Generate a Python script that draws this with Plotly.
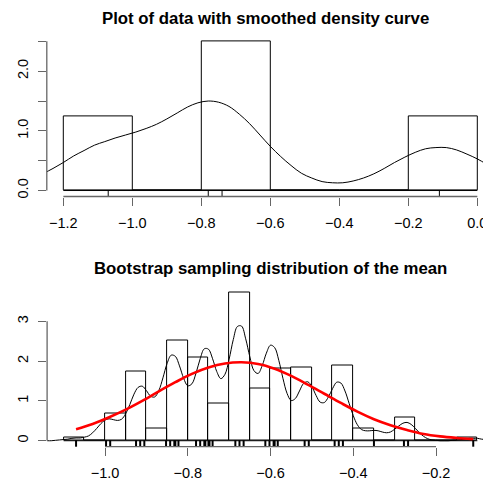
import numpy as np
import plotly.graph_objects as go

# ---------------- data ----------------
# top panel: observed data (rug) and histogram
data_values = [-1.07, -0.78, -0.74, -0.11]
top_edges = [-1.2, -1.0, -0.8, -0.6, -0.4, -0.2, 0.0]
top_density = [1.25, 0.0, 2.5, 0.0, 0.0, 1.25]
# smoothed density curve on a 0.03 grid from -1.26
top_curve_x0, top_curve_dx = -1.26, 0.03
top_curve_y = [0.28, 0.37, 0.47, 0.58, 0.67, 0.76, 0.82, 0.88, 0.93, 0.98, 1.04, 1.11,
               1.20, 1.30, 1.40, 1.47, 1.50, 1.48, 1.41, 1.28, 1.12, 0.93, 0.74, 0.57,
               0.42, 0.29, 0.21, 0.15, 0.13, 0.13, 0.16, 0.21, 0.28, 0.37, 0.47, 0.56,
               0.64, 0.70, 0.72, 0.72, 0.68, 0.61, 0.53, 0.43]

# bottom panel: bootstrap means (distinct values in the rug) and histogram
boot_rug = [-1.07, -0.9975, -0.9875, -0.925, -0.915, -0.905, -0.8525, -0.8425, -0.8325, -0.83,
            -0.8225, -0.78, -0.77, -0.76, -0.7575, -0.75, -0.7475, -0.74, -0.685, -0.675,
            -0.665, -0.6125, -0.6025, -0.5925, -0.59, -0.5825, -0.5175, -0.5075, -0.445, -0.435,
            -0.425, -0.35, -0.2775, -0.2675, -0.11]
bot_edges = [-1.1, -1.05, -1.0, -0.95, -0.9, -0.85, -0.8, -0.75, -0.7, -0.65, -0.6,
             -0.55, -0.5, -0.45, -0.4, -0.35, -0.3, -0.25, -0.2, -0.15, -0.1]
bot_density = [0.075, 0.0, 0.68, 1.74, 0.30, 2.51, 2.08, 0.93, 3.72, 1.30,
               1.825, 1.85, 0.0, 1.90, 0.31, 0.0, 0.58, 0.0, 0.0, 0.075]
# kernel density of the bootstrap means on a 0.01 grid from -1.14
bot_curve_x0, bot_curve_dx = -1.14, 0.01
bot_curve_y = [0.00, 0.00, 0.01, 0.02, 0.03, 0.04, 0.06, 0.07, 0.07, 0.09, 0.12, 0.20,
               0.31, 0.43, 0.52, 0.55, 0.53, 0.51, 0.54, 0.68, 0.91, 1.17, 1.34, 1.37,
               1.26, 1.12, 1.10, 1.26, 1.58, 1.94, 2.15, 2.12, 1.88, 1.57, 1.38, 1.43,
               1.70, 2.06, 2.31, 2.30, 2.06, 1.74, 1.56, 1.67, 2.05, 2.54, 2.87, 2.88,
               2.56, 2.11, 1.76, 1.69, 1.89, 2.20, 2.40, 2.34, 2.02, 1.57, 1.19, 1.01,
               1.06, 1.25, 1.44, 1.48, 1.36, 1.14, 0.97, 0.96, 1.10, 1.31, 1.47, 1.45,
               1.25, 0.94, 0.63, 0.40, 0.28, 0.25, 0.25, 0.26, 0.25, 0.22, 0.20, 0.22,
               0.29, 0.37, 0.44, 0.46, 0.41, 0.31, 0.20, 0.11, 0.05, 0.02, 0.01, 0.00,
               0.00, 0.00, 0.01, 0.02, 0.03, 0.04, 0.06, 0.06, 0.06, 0.04, 0.03]
# normal approximation (red) on a 0.04 grid from -1.07
red_x0, red_dx = -1.07, 0.04
red_y = [0.29, 0.42, 0.59, 0.78, 1.00, 1.24, 1.47, 1.68, 1.84, 1.94, 1.97, 1.93,
         1.81, 1.63, 1.41, 1.18, 0.95, 0.73, 0.54, 0.39, 0.27, 0.17, 0.11, 0.07, 0.04]

top_xticks = [-1.2, -1.0, -0.8, -0.6, -0.4, -0.2, 0.0]
top_yticks = [0.0, 0.5, 1.0, 1.5, 2.0, 2.5]
top_ylabels = ["0.0", "", "1.0", "", "2.0", ""]
bot_xticks = [-1.0, -0.8, -0.6, -0.4, -0.2]
bot_yticks = [0, 1, 2, 3]
bot_ylabels = ["0", "1", "2", "3"]

titles = ["Plot of data with smoothed density curve", "Bootstrap sampling distribution of the mean"]

# ---------------- figure ----------------
W, H = 483, 482
FONT = "Liberation Sans, Arial, Helvetica, sans-serif"
AX = "#666666"

def grid(x0, dx, n):
    return [round(x0 + dx * i, 4) for i in range(n)]

def centers(edges):
    return [(a + b) / 2 for a, b in zip(edges[:-1], edges[1:])]

def widths(edges):
    return [b - a for a, b in zip(edges[:-1], edges[1:])]

fig = go.Figure()

# top histogram
fig.add_trace(go.Bar(x=centers(top_edges), y=top_density, width=widths(top_edges),
                     marker=dict(color="rgba(0,0,0,0)", line=dict(color="black", width=1)),
                     xaxis="x", yaxis="y", showlegend=False, hoverinfo="skip"))
fig.add_trace(go.Scatter(x=[top_edges[0], top_edges[-1]], y=[0, 0], mode="lines",
                         line=dict(color="black", width=1), xaxis="x", yaxis="y", showlegend=False))
fig.add_trace(go.Scatter(x=grid(top_curve_x0, top_curve_dx, len(top_curve_y)), y=top_curve_y,
                         mode="lines", line=dict(color="black", width=1, shape="spline"),
                         xaxis="x", yaxis="y", showlegend=False))

# bottom histogram
fig.add_trace(go.Bar(x=centers(bot_edges), y=bot_density, width=widths(bot_edges),
                     marker=dict(color="rgba(0,0,0,0)", line=dict(color="black", width=1)),
                     xaxis="x2", yaxis="y2", showlegend=False, hoverinfo="skip"))
fig.add_trace(go.Scatter(x=[bot_edges[0], bot_edges[-1]], y=[0, 0], mode="lines",
                         line=dict(color="black", width=1), xaxis="x2", yaxis="y2", showlegend=False))
fig.add_trace(go.Scatter(x=grid(bot_curve_x0, bot_curve_dx, len(bot_curve_y)), y=bot_curve_y,
                         mode="lines", line=dict(color="black", width=1, shape="spline"),
                         xaxis="x2", yaxis="y2", showlegend=False))
fig.add_trace(go.Scatter(x=grid(red_x0, red_dx, len(red_y)), y=red_y,
                         mode="lines", line=dict(color="#FF0000", width=2.6, shape="spline"),
                         xaxis="x2", yaxis="y2", showlegend=False))

shapes = []
# rugs
for v in data_values:
    shapes.append(dict(type="line", xref="x", yref="y domain", x0=v, x1=v, y0=0, y1=0.04,
                       line=dict(color="black", width=1)))
for v in boot_rug:
    shapes.append(dict(type="line", xref="x2", yref="y2 domain", x0=v, x1=v, y0=0, y1=0.04,
                       line=dict(color="black", width=2)))
# R-style axis lines spanning first to last tick
shapes.append(dict(type="line", xref="x", yref="y domain", x0=top_xticks[0], x1=top_xticks[-1], y0=0, y1=0,
                   line=dict(color=AX, width=1.3)))
shapes.append(dict(type="line", xref="x domain", yref="y", x0=0, x1=0, y0=top_yticks[0], y1=top_yticks[-1],
                   line=dict(color=AX, width=1.3)))
shapes.append(dict(type="line", xref="x2", yref="y2 domain", x0=bot_xticks[0], x1=bot_xticks[-1], y0=0, y1=0,
                   line=dict(color=AX, width=1.3)))
shapes.append(dict(type="line", xref="x2 domain", yref="y2", x0=0, x1=0, y0=bot_yticks[0], y1=bot_yticks[-1],
                   line=dict(color=AX, width=1.3)))

# pixel geometry of the two plot regions
top_left, top_top, top_bot = 46.8, 35.4, 196.5
bot_left, bot_top, bot_bot = 47.1, 285.5, 446.7

common_x = dict(showgrid=False, zeroline=False, showline=False, ticks="outside", ticklen=8,
                tickwidth=1.3, tickcolor=AX, tickfont=dict(family=FONT, size=14.5, color="black"),
                tickformat=".1f", automargin=False, ticklabelstandoff=5, ticklabeloverflow="allow",
                fixedrange=True)
common_y = dict(showgrid=False, zeroline=False, showline=False, ticks="outside", ticklen=8,
                tickwidth=1.3, tickcolor=AX, tickfont=dict(family=FONT, size=14.5, color="black"),
                tickangle=-90, automargin=False, ticklabelstandoff=4, ticklabeloverflow="allow",
                fixedrange=True)

fig.update_layout(
    width=W, height=H, margin=dict(l=0, r=0, t=0, b=0),
    paper_bgcolor="white", plot_bgcolor="white", bargap=0, barmode="overlay",
    showlegend=False, shapes=shapes,
    xaxis=dict(common_x, domain=[top_left / W, 1], range=[-1.248, -1.2 + (W - 63.33) / 345],
               tickvals=top_xticks, anchor="y"),
    yaxis=dict(common_y, domain=[1 - top_bot / H, 1 - top_top / H], range=[-0.1, 2.6],
               tickvals=top_yticks, ticktext=top_ylabels, anchor="x"),
    xaxis2=dict(common_x, domain=[bot_left / W, 1], range=[-1.14, -1.0 + (W - 105.0) / 413.75],
                tickvals=bot_xticks, anchor="y2"),
    yaxis2=dict(common_y, domain=[1 - bot_bot / H, 1 - bot_top / H], range=[-0.15, 3.9],
                tickvals=bot_yticks, ticktext=bot_ylabels, anchor="x2"),
    annotations=[
        dict(text="<b>%s</b>" % titles[0], x=265.8 / W, y=1 - 19.0 / H, xref="paper", yref="paper",
             xanchor="center", yanchor="middle", showarrow=False,
             font=dict(family=FONT, size=16.8, color="black")),
        dict(text="<b>%s</b>" % titles[1], x=270.5 / W, y=1 - 268.5 / H, xref="paper", yref="paper",
             xanchor="center", yanchor="middle", showarrow=False,
             font=dict(family=FONT, size=16.8, color="black")),
    ],
)

fig.write_html("out.html")
